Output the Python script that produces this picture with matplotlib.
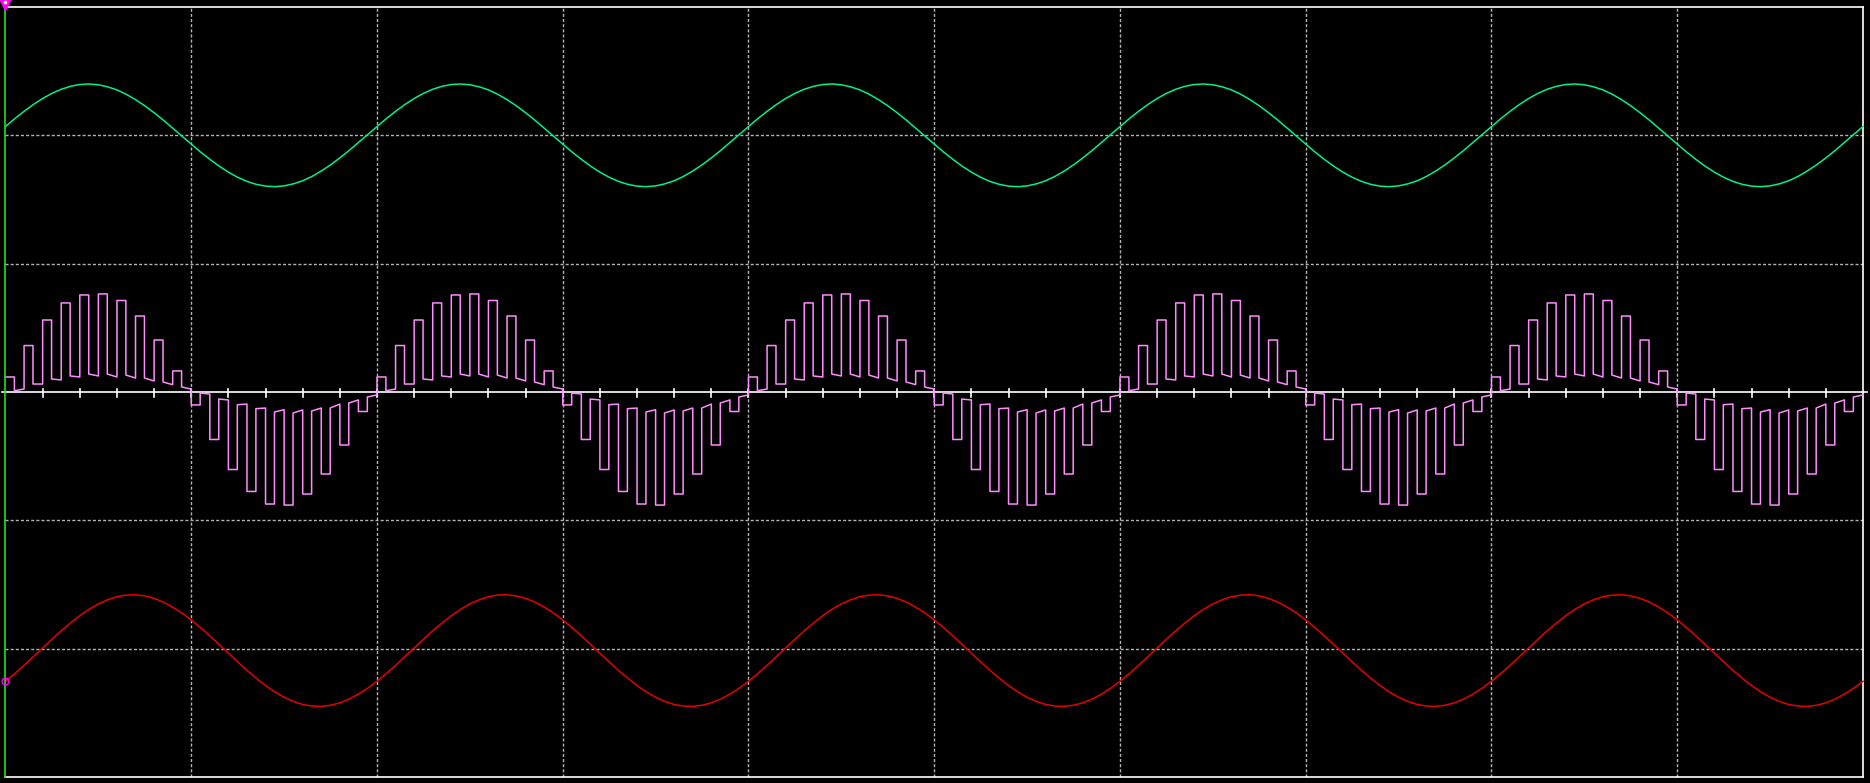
import numpy as np
import matplotlib
matplotlib.use("Agg")
import matplotlib.pyplot as plt

# screen is 10 x 6 divisions, time and amplitude both in divisions
n_cycles = 5
sine_step = 0.05  # sampling of the sine traces (div)
pwm_step = 0.1  # switching period of the PWM trace (div)

# one cycle (2 div) of the green trace, read every 0.05 div
green_cycle = [2.069, 2.130, 2.187, 2.240, 2.287, 2.327, 2.359, 2.382, 2.396, 2.400,
               2.394, 2.378, 2.354, 2.320, 2.278, 2.230, 2.176, 2.118, 2.056, 1.994,
               1.931, 1.870, 1.813, 1.760, 1.713, 1.673, 1.641, 1.618, 1.604, 1.600,
               1.606, 1.622, 1.646, 1.680, 1.722, 1.770, 1.824, 1.882, 1.944, 2.006]

# one cycle of the red trace, read every 0.05 div
red_cycle = [-2.254, -2.194, -2.130, -2.063, -1.995, -1.927, -1.861, -1.800, -1.743, -1.693,
             -1.651, -1.619, -1.595, -1.583, -1.580, -1.589, -1.608, -1.637, -1.676, -1.722,
             -1.776, -1.836, -1.900, -1.967, -2.035, -2.103, -2.169, -2.230, -2.287, -2.337,
             -2.379, -2.411, -2.435, -2.447, -2.450, -2.441, -2.422, -2.393, -2.354, -2.308]

# PWM trace: per switching period, big level (first half) then small level (second half)
pos_big = [0.117, 0.362, 0.561, 0.694, 0.756, 0.764, 0.713, 0.592, 0.405, 0.164]
pos_small_start = [0.010, 0.062, 0.101, 0.125, 0.140, 0.140, 0.132, 0.109, 0.078, 0.039]
pos_small_end = [0.023, 0.062, 0.094, 0.117, 0.125, 0.117, 0.109, 0.086, 0.057, 0.023]
neg_big = [-0.101, -0.370, -0.604, -0.775, -0.873, -0.881, -0.795, -0.639, -0.413, -0.152]
neg_small_start = [-0.008, -0.055, -0.099, -0.130, -0.156, -0.164, -0.148, -0.125, -0.086, -0.039]
neg_small_end = [-0.016, -0.062, -0.094, -0.125, -0.138, -0.140, -0.125, -0.094, -0.062, -0.023]

GREEN = "#00f08a"
PINK = "#ff8cff"
RED = "#e80000"
GRID = "#b4b4b4"

# --- build traces ---
t = np.arange(len(green_cycle) * n_cycles + 1) * sine_step
green = np.append(np.tile(green_cycle, n_cycles), green_cycle[0])
red = np.append(np.tile(red_cycle, n_cycles), red_cycle[0])

big = np.tile(pos_big + neg_big, n_cycles)
small_s = np.tile(pos_small_start + neg_small_start, n_cycles)
small_e = np.tile(pos_small_end + neg_small_end, n_cycles)

px, py = [], []
for k in range(len(big)):
    t0 = k * pwm_step
    tm = t0 + pwm_step * 0.48
    t1 = t0 + pwm_step
    px += [t0, tm, tm, t1]
    py += [big[k], big[k], small_s[k], small_e[k]]

fig = plt.figure(figsize=(18.7, 7.83), dpi=100, facecolor="black")
ax = fig.add_axes([0, 0, 1, 1], facecolor="black")
ax.set_xlim(-0.0296, 10.0377)
ax.set_ylim(-3.0468, 3.0545)
ax.axis("off")

# graticule
dash = (0, (2.2, 1.5))
for xg in range(1, 10):
    ax.plot([xg, xg], [-3, 3], color=GRID, lw=1, ls=dash, zorder=1)
for yg in [-2, -1, 1, 2]:
    ax.plot([0, 10], [yg, yg], color=GRID, lw=1, ls=dash, zorder=1)

# centre axis with small ticks every 0.2 div
ax.plot([-0.02, 10.02], [0, 0], color="white", lw=1.2, zorder=2)
for xt in np.arange(0.2, 10, 0.2):
    ax.plot([xt, xt], [-0.04, 0.025], color="white", lw=1.2, zorder=2)

# frame
ax.plot([0, 10], [3, 3], color="white", lw=1.2, zorder=2)
ax.plot([0, 10], [-3, -3], color="white", lw=1.2, zorder=2)
ax.plot([10, 10], [-3, 3], color="white", lw=1.2, zorder=2)
ax.plot([0, 0], [-3, 3], color="#20e020", lw=1.2, zorder=5)

# traces
ax.plot(t, green, color=GREEN, lw=1.1, zorder=3)
ax.plot(px, py, color=PINK, lw=1.1, zorder=3)
ax.plot(t, red, color=RED, lw=1.1, zorder=3)

# cursor markers
ax.plot(0, 3.028, marker="v", color="#ff00ff", ms=10, zorder=6)
ax.plot(0, 3.038, marker="s", color="#ffff80", ms=2, zorder=7)
ax.plot(0, red[0], marker="o", mfc="none", mec="#ff00ff", ms=5, mew=1, zorder=6)

fig.savefig("out.png", dpi=100, facecolor="black")
